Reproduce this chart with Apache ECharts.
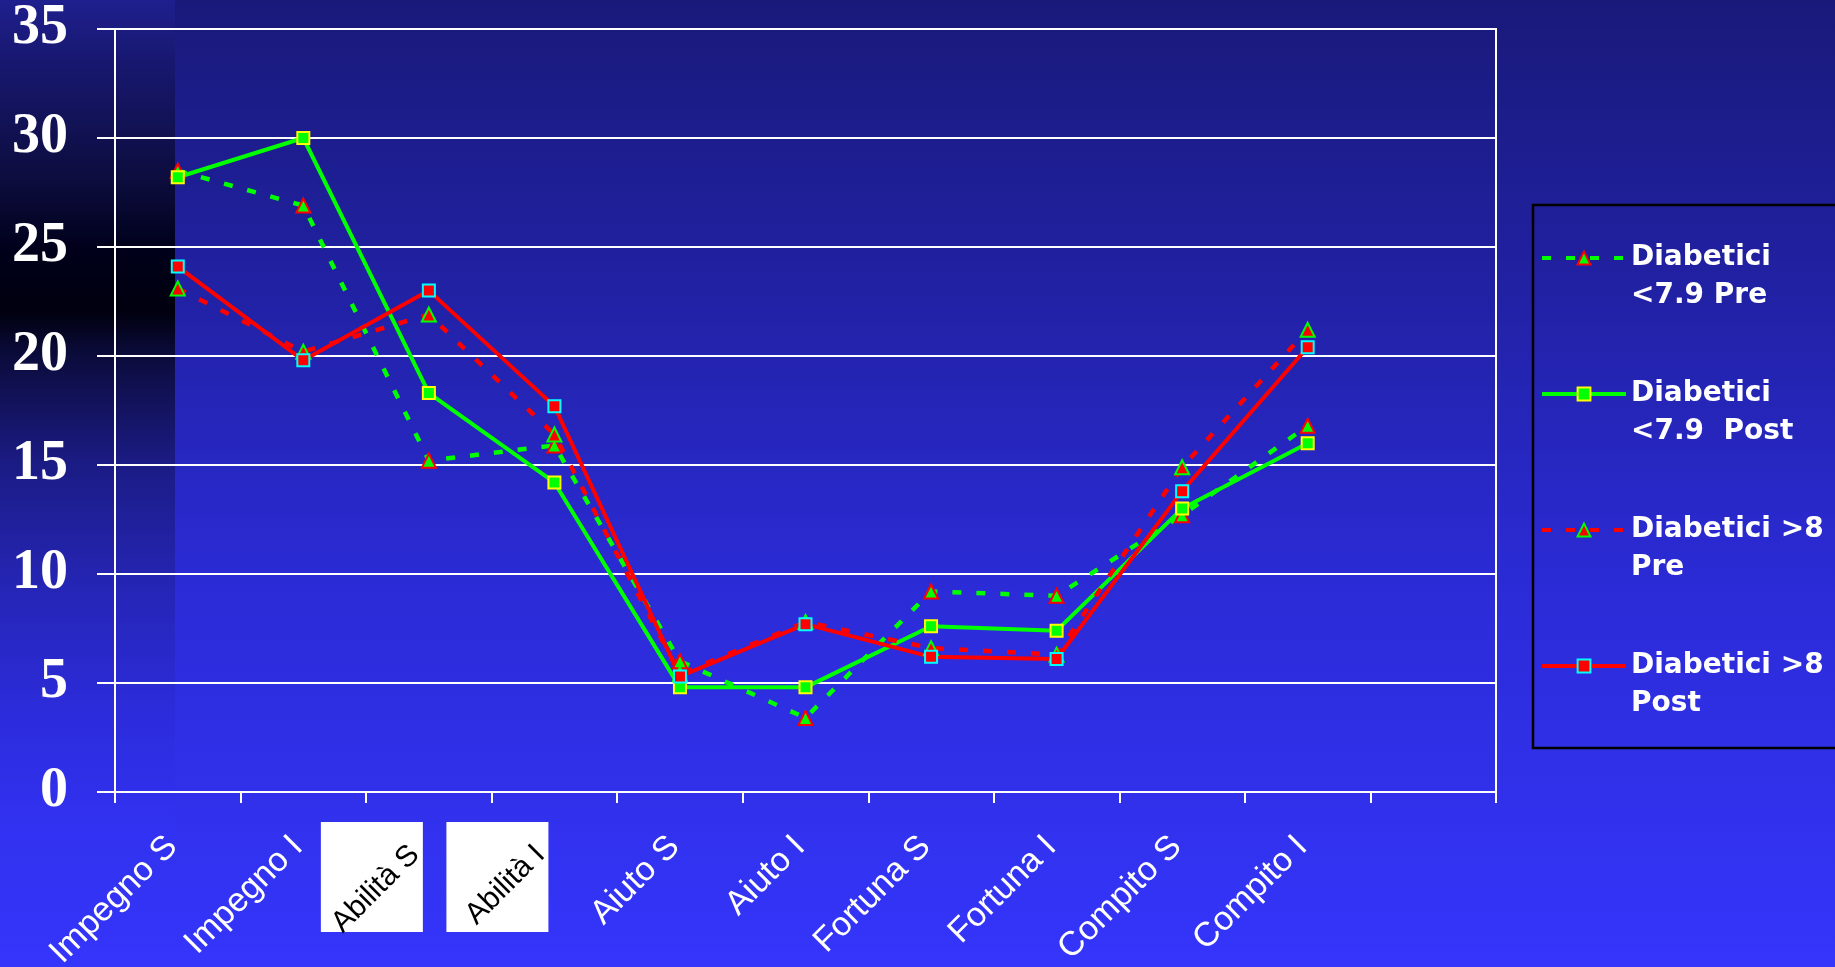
<!DOCTYPE html>
<html>
<head>
<meta charset="utf-8">
<style>
  html, body { margin: 0; padding: 0; background: #1a1a7a; }
  #chart { width: 1835px; height: 967px; }
</style>
<script src="https://cdn.jsdelivr.net/npm/echarts@6/dist/echarts.min.js"></script>
</head>
<body>
<div id="chart"></div>
<script>
// categorie (l'ultima è vuota: l'asse ha 11 posti)
const categories = ['Impegno S', 'Impegno I', 'Abilità S', 'Abilità I', 'Aiuto S', 'Aiuto I',
                    'Fortuna S', 'Fortuna I', 'Compito S', 'Compito I', ''];
const boxedCategories = ['Abilità S', 'Abilità I'];

const yMin = 0;
const yMax = 35;
const yStep = 5;

const seriesNames = ['Diabetici <7.9 Pre', 'Diabetici <7.9 Post', 'Diabetici >8 Pre', 'Diabetici >8 Post'];
const legendLabels = ['Diabetici\n<7.9 Pre', 'Diabetici\n<7.9  Post', 'Diabetici >8\nPre', 'Diabetici >8\nPost'];

const under79Pre  = [28.5, 26.9, 15.2, 15.9, 6.0, 3.4, 9.2, 9.0, 12.7, 16.8];
const under79Post = [28.2, 30.0, 18.3, 14.2, 4.8, 4.8, 7.6, 7.4, 13.0, 16.0];
const over8Pre    = [23.1, 20.2, 21.9, 16.4, 5.4, 7.8, 6.6, 6.3, 14.9, 21.2];
const over8Post   = [24.1, 19.8, 23.0, 17.7, 5.3, 7.7, 6.2, 6.1, 13.8, 20.4];

const chart = echarts.init(document.getElementById('chart'));

function lineSeries(name, data, lineColor, dashed, symbol, fill, border) {
    return {
        name: name,
        type: 'line',
        data: data,
        symbol: symbol,
        symbolSize: symbol === 'triangle' ? 14 : 12,
        showAllSymbol: true,
        lineStyle: {
            color: lineColor,
            width: dashed ? 4.5 : 4,
            type: dashed ? [9, 15] : 'solid'
        },
        itemStyle: {
            color: fill,
            borderColor: border,
            borderWidth: 2
        }
    };
}

const bg = new echarts.graphic.LinearGradient(0, 0, 0, 1, [
    { offset: 0, color: '#19197a' },
    { offset: 0.3, color: '#2121a4' },
    { offset: 0.6, color: '#2b2bd6' },
    { offset: 1, color: '#3535fc' }
]);

const band = new echarts.graphic.LinearGradient(0, 0, 0, 1, [
    { offset: 0, color: '#1f1f8e' },
    { offset: 0.08, color: '#17176e' },
    { offset: 0.22, color: '#0c0c3c' },
    { offset: 0.3, color: '#00001a' },
    { offset: 0.37, color: '#00000f' },
    { offset: 0.42, color: '#0b0b3a' },
    { offset: 0.55, color: '#1b1b84' },
    { offset: 0.7, color: '#2525b6' },
    { offset: 0.85, color: '#2c2cdc' },
    { offset: 1, color: '#3232f4' }
]);

chart.setOption({
    animation: false,
    backgroundColor: bg,
    grid: {
        left: 115,
        right: 339,
        top: 29,
        bottom: 175,
        show: true,
        borderColor: '#ffffff',
        borderWidth: 2,
        backgroundColor: 'transparent',
        outerBoundsMode: 'none'
    },
    legend: {
        orient: 'vertical',
        left: 1540,
        top: 201,
        padding: 0,
        itemGap: 22,
        itemWidth: 84,
        itemHeight: 16,
        data: seriesNames,
        lineStyle: { width: 4 },
        formatter: name => '\n' + legendLabels[seriesNames.indexOf(name)],
        textStyle: {
            color: '#ffffff',
            fontFamily: 'DejaVu Sans',
            fontWeight: 'bold',
            fontSize: 28,
            lineHeight: 38
        }
    },
    xAxis: {
        type: 'category',
        data: categories,
        boundaryGap: true,
        axisLine: { lineStyle: { color: '#ffffff', width: 2 } },
        axisTick: { show: true, interval: 0, length: 11, lineStyle: { color: '#ffffff', width: 2 } },
        axisLabel: {
            interval: 0,
            rotate: 45,
            margin: 44,
            padding: [0, 8, 0, 0],
            color: '#ffffff',
            fontFamily: 'Liberation Sans',
            fontSize: 34,
            formatter: v => boxedCategories.includes(v) ? '{box|' + v + '}' : v,
            rich: {
                box: {
                    color: '#000000',
                    fontFamily: 'Liberation Sans',
                    fontSize: 30,
                    padding: [0, 12, 0, 0]
                }
            }
        },
        splitLine: { show: false }
    },
    yAxis: {
        type: 'value',
        min: yMin,
        max: yMax,
        interval: yStep,
        axisLine: { show: true, lineStyle: { color: '#ffffff', width: 2 } },
        axisTick: { show: true, length: 18, lineStyle: { color: '#ffffff', width: 2 } },
        axisLabel: {
            margin: 47,
            color: '#ffffff',
            fontFamily: 'Liberation Serif',
            fontWeight: 'bold',
            fontSize: 56
        },
        splitLine: { lineStyle: { color: '#ffffff', width: 2 } }
    },
    series: [
        lineSeries(seriesNames[0], under79Pre, '#00ff00', true, 'triangle', '#00ff00', '#ff0000'),
        lineSeries(seriesNames[1], under79Post, '#00ff00', false, 'rect', '#00ff00', '#ffff00'),
        lineSeries(seriesNames[2], over8Pre, '#ff0000', true, 'triangle', '#ff0000', '#00ff00'),
        lineSeries(seriesNames[3], over8Post, '#ff0000', false, 'rect', '#ff0000', '#00ffff')
    ]
});

// riquadri bianchi dietro le etichette "Abilità"
const boxes = boxedCategories.map(c => {
    const x = chart.convertToPixel({ xAxisIndex: 0 }, c);
    return {
        type: 'rect',
        z: -1,
        shape: { x: x - 108, y: 822, width: 102, height: 110 },
        style: { fill: '#ffffff' }
    };
});

chart.setOption({
    graphic: {
        elements: [
            {
                type: 'rect',
                z: -10,
                shape: { x: 0, y: 0, width: 175, height: 840 },
                style: { fill: band }
            },
            {
                type: 'rect',
                z: -1,
                shape: { x: 1533, y: 205, width: 330, height: 543 },
                style: { fill: 'none', stroke: '#000000', lineWidth: 2.5 }
            }
        ].concat(boxes)
    }
});
</script>
</body>
</html>
